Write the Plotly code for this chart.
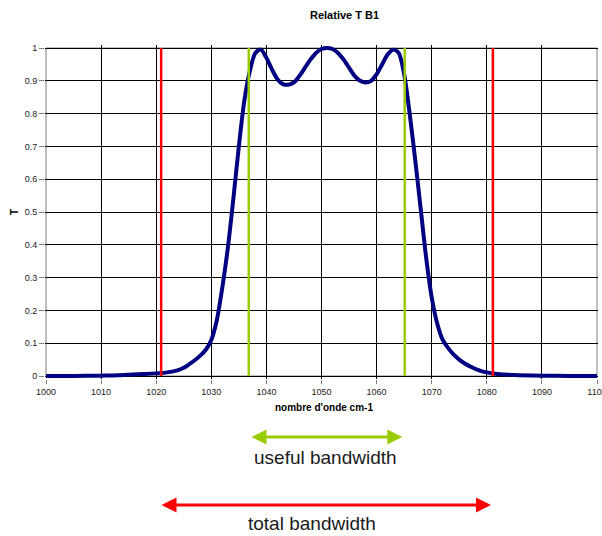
import plotly.graph_objects as go

# Transmission curve
wavenumber = [1000, 1005, 1010, 1013, 1015, 1018, 1020, 1022, 1024, 1025, 1026, 1027, 1028, 1029,
              1030, 1031, 1032, 1033, 1034, 1035, 1036, 1037, 1038, 1039, 1040, 1041,
              1042, 1043, 1044, 1045, 1046, 1047, 1048, 1049, 1050, 1051, 1052, 1053,
              1054, 1055, 1056, 1057, 1058, 1059, 1060, 1061, 1062, 1063, 1064, 1065,
              1066, 1067, 1068, 1069, 1070, 1071, 1072, 1073, 1074, 1075, 1076, 1077,
              1078, 1079, 1080, 1082, 1085, 1090, 1095, 1100]
transmission = [0.0, 0.0, 0.001, 0.002, 0.004, 0.006, 0.008, 0.011, 0.018, 0.025, 0.036, 0.048, 0.062, 0.08,
                0.11, 0.17, 0.27, 0.39, 0.54, 0.70, 0.84, 0.93, 0.985, 0.995, 0.97, 0.935,
                0.905, 0.89, 0.888, 0.895, 0.915, 0.94, 0.965, 0.985, 0.997, 1.0, 0.997, 0.985,
                0.965, 0.94, 0.915, 0.9, 0.895, 0.9, 0.92, 0.95, 0.98, 0.995, 0.985, 0.92,
                0.80, 0.66, 0.51, 0.36, 0.24, 0.16, 0.11, 0.085, 0.065, 0.05, 0.038, 0.029,
                0.021, 0.015, 0.011, 0.006, 0.003, 0.001, 0.0, 0.0]

# band limits
total_band = [1020.9, 1081.1]
useful_band = [1036.8, 1065.1]

x_ticks = list(range(1000, 1101, 10))

RED = "#FF0000"
GREEN = "#99CC00"
NAVY = "#000080"
FONT = "Liberation Sans, Arial, sans-serif"

fig = go.Figure()

fig.add_trace(go.Scatter(
    x=wavenumber, y=transmission, mode="lines",
    line=dict(color=NAVY, width=4, shape="spline", smoothing=0.8),
    showlegend=False, hoverinfo="skip"))

for xv in total_band:
    fig.add_trace(go.Scatter(x=[xv, xv], y=[0, 1], mode="lines",
                             line=dict(color=RED, width=2.5),
                             showlegend=False, hoverinfo="skip"))
for xv in useful_band:
    fig.add_trace(go.Scatter(x=[xv, xv], y=[0, 1], mode="lines",
                             line=dict(color=GREEN, width=2.5),
                             showlegend=False, hoverinfo="skip"))

ey = 3 / 328.0
ex = 1 / 5.51

fig.add_shape(type="rect", x0=1000, x1=1100, y0=0, y1=1, xref="x", yref="y",
              line=dict(color="#808080", width=1), layer="below")

annotations = [
    dict(text="<b>Relative T B1</b>", x=0.5407, y=1.0898, xref="paper", yref="paper",
         showarrow=False, font=dict(size=11, color="#000", family=FONT),
         xanchor="center", yanchor="middle"),
    dict(text="<b>nombre d'onde cm-1</b>", x=0.5045, y=-0.0859, xref="paper", yref="paper",
         showarrow=False, font=dict(size=10, color="#000", family=FONT),
         xanchor="center", yanchor="middle"),
    dict(text="<b>T</b>", x=-0.0561, y=0.5, xref="paper", yref="paper", textangle=-90,
         showarrow=False, font=dict(size=10, color="#000", family=FONT),
         xanchor="center", yanchor="middle"),
    dict(text="useful bandwidth", x=0.5072, y=-0.2365, xref="paper", yref="paper",
         showarrow=False, font=dict(size=19, color="#1a1a1a", family=FONT),
         xanchor="center", yanchor="middle"),
    dict(text="total bandwidth", x=0.4823, y=-0.432, xref="paper", yref="paper",
         showarrow=False, font=dict(size=19, color="#1a1a1a", family=FONT),
         xanchor="center", yanchor="middle"),
]

# arrows: head position (paper) and tail offset (pixels)
for hx, length, hy, col in [(0.6461, 152.3, -0.1737, GREEN), (0.8065, 331, -0.3772, RED)]:
    annotations.append(dict(
        text="", x=hx, y=hy, ax=-length, ay=0, xref="paper", yref="paper",
        axref="pixel", ayref="pixel",
        showarrow=True, arrowside="end+start", arrowhead=2, startarrowhead=2,
        arrowsize=1, startarrowsize=1, arrowwidth=3, arrowcolor=col,
        standoff=0, startstandoff=0))

fig.update_layout(
    width=602, height=536,
    margin=dict(l=45, r=4, t=45, b=157, pad=0),
    paper_bgcolor="white", plot_bgcolor="white",
    font=dict(family=FONT, size=9, color="#222"),
    showlegend=False,
    annotations=annotations,
    xaxis=dict(range=[1000 - ex, 1100 + ex], tickvals=x_ticks, ticks="outside", ticklen=4,
               tickcolor="#808080", showgrid=True, gridcolor="#000", gridwidth=1,
               showline=False, zeroline=False, automargin=False,
               ticklabeloverflow="allow",
               tickfont=dict(size=9, color="#222")),
    yaxis=dict(range=[-ey, 1 + ey], tick0=0, dtick=0.1, ticks="outside", ticklen=5,
               tickcolor="#808080", showgrid=True, gridcolor="#000", gridwidth=1,
               showline=False, zeroline=False, automargin=False,
               tickfont=dict(size=9, color="#222")),
)

fig.write_html("out.html")
